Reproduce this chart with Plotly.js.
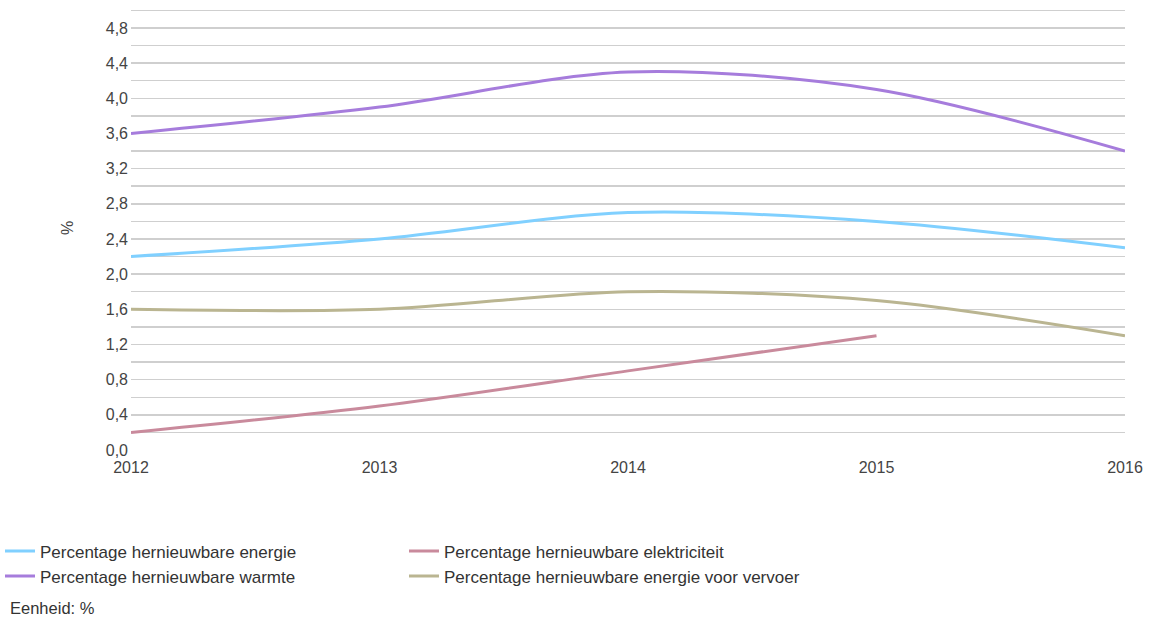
<!DOCTYPE html>
<html>
<head>
<meta charset="utf-8">
<script src="https://cdn.plot.ly/plotly-3.0.1.min.js"></script>
<style>html,body{margin:0;padding:0;background:#fff;}#chart{width:1152px;height:621px;}</style>
</head>
<body>
<div id="chart"></div>
<script>
const years = [2012, 2013, 2014, 2015, 2016];
const energie = [2.2, 2.4, 2.7, 2.6, 2.3];
const elektriciteit = [0.2, 0.5, 0.9, 1.3, null];
const warmte = [3.6, 3.9, 4.3, 4.1, 3.4];
const vervoer = [1.6, 1.6, 1.8, 1.7, 1.3];
const names = [
  'Percentage hernieuwbare energie',
  'Percentage hernieuwbare elektriciteit',
  'Percentage hernieuwbare warmte',
  'Percentage hernieuwbare energie voor vervoer'
];
const unitLabel = 'Eenheid: %';
const colors = ['#80d0ff', '#c98a9c', '#a67cdc', '#bab591'];
const series = [energie, elektriciteit, warmte, vervoer];

const traces = series.map((s, i) => ({
  x: years, y: s, name: names[i], type: 'scatter', mode: 'lines',
  line: {color: colors[i], width: 3, shape: 'spline', smoothing: 0.9},
  connectgaps: false, hoverinfo: 'x+y'
}));

const layout = {
  width: 1152, height: 621,
  margin: {l: 131, r: 27, t: 6, b: 171},
  paper_bgcolor: '#fff', plot_bgcolor: '#fff',
  separators: ',.',
  font: {family: 'Liberation Sans, Arial, sans-serif', size: 16, color: '#444'},
  xaxis: {
    type: 'linear', range: [2012, 2016], tickvals: years, ticktext: years.map(String),
    showgrid: false, zeroline: false, showline: false, ticks: '',
    ticklabelstandoff: 6,
    tickfont: {size: 16, color: '#444'}
  },
  yaxis: {
    range: [0, 5.05], dtick: 0.4, tick0: 0, tickformat: '.1f',
    showgrid: true, gridcolor: '#cfcfcf', gridwidth: 1.5, zeroline: false,
    minor: {dtick: 0.2, showgrid: true, gridcolor: '#cfcfcf', gridwidth: 1.5},
    ticks: '', ticklabelstandoff: 2,
    tickfont: {size: 16, color: '#444'},
    title: {text: '%', font: {size: 16, color: '#444'}, standoff: 28}
  },
  showlegend: true,
  legend: {
    orientation: 'h', xref: 'container', yref: 'container',
    x: -0.003, y: 0.141, xanchor: 'left', yanchor: 'top',
    entrywidth: 359, entrywidthmode: 'pixels',
    font: {size: 17, color: '#333'}, tracegroupgap: 0
  },
  annotations: [{
    text: unitLabel, xref: 'paper', yref: 'paper',
    x: -0.1237, y: -0.356,
    xanchor: 'left', yanchor: 'middle', showarrow: false,
    font: {size: 16.5, color: '#333'}
  }]
};
Plotly.newPlot('chart', traces, layout, {displayModeBar: false, staticPlot: true});
</script>
</body>
</html>
